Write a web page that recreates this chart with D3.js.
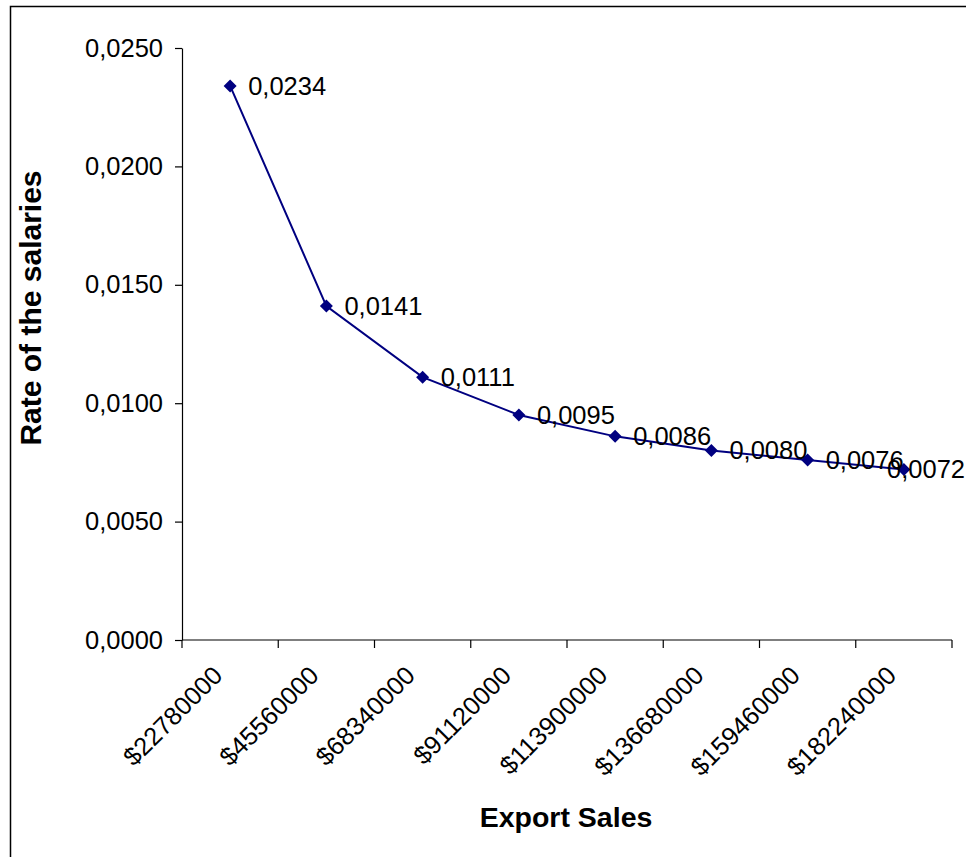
<!DOCTYPE html>
<html>
<head>
<meta charset="utf-8">
<script src="https://cdn.jsdelivr.net/npm/d3@7"></script>
<style>
  body { margin: 0; background: #fff; }
  svg { display: block; font-family: "Liberation Sans", Arial, sans-serif; }
</style>
</head>
<body>
<svg id="chart" width="966" height="857"></svg>
<script>
// categories and values
const categories = ["$22780000", "$45560000", "$68340000", "$91120000",
  "$113900000", "$136680000", "$159460000", "$182240000"];
const rates = [0.0234, 0.0141, 0.0111, 0.0095, 0.0086, 0.0080, 0.0076, 0.0072];
const yTicks = [0, 0.005, 0.010, 0.015, 0.020, 0.025];

const svg = d3.select("#chart");
const W = 966, H = 857;
const plotL = 182, plotR = 952, plotT = 48, plotB = 640;
const fs = 25.5;

let fmt = d => d3.format(".4f")(d).replace(".", ",");

// outer frame (right and bottom edges fall outside the picture)
svg.append("rect")
  .attr("x", 10.5).attr("y", 6.5)
  .attr("width", W + 20).attr("height", H + 20)
  .attr("fill", "none").attr("stroke", "#000").attr("stroke-width", 1.5);

let x = d3.scaleBand().domain(categories).range([plotL, plotR]).padding(0);
let y = d3.scaleLinear().domain([0, 0.025]).range([plotB, plotT]);

// y axis
let yAxis = svg.append("g")
  .attr("transform", "translate(" + plotL + ",0)")
  .call(d3.axisLeft(y).tickValues(yTicks).tickSize(7).tickSizeOuter(0)
    .tickPadding(12).tickFormat(fmt));
yAxis.selectAll("text").attr("font-size", fs).attr("fill", "#000")
  .attr("font-family", "Liberation Sans, Arial, sans-serif");
yAxis.selectAll("line, path").attr("stroke", "#000").attr("stroke-width", 1.2);

// x axis line + ticks at category boundaries
let xg = svg.append("g");
xg.append("line")
  .attr("x1", plotL).attr("x2", plotR)
  .attr("y1", plotB).attr("y2", plotB)
  .attr("stroke", "#000").attr("stroke-width", 1.2);
xg.selectAll("line.tick")
  .data(categories.map(c => x(c)).concat([plotR]))
  .join("line")
  .attr("class", "tick")
  .attr("x1", d => d).attr("x2", d => d)
  .attr("y1", plotB).attr("y2", plotB + 8)
  .attr("stroke", "#000").attr("stroke-width", 1.2);

xg.selectAll("text")
  .data(categories)
  .join("text")
  .attr("transform", d => "translate(" + (x(d) + x.bandwidth() / 2 - 6) + "," + (plotB + 37) + ") rotate(-45)")
  .attr("text-anchor", "end")
  .attr("font-size", fs)
  .text(d => d);

// line + markers
let pts = categories.map((c, i) => [x(c) + x.bandwidth() / 2, y(rates[i]), rates[i]]);

svg.append("path")
  .datum(pts)
  .attr("fill", "none")
  .attr("stroke", "#000080")
  .attr("stroke-width", 2)
  .attr("d", d3.line().x(d => d[0]).y(d => d[1]));

svg.selectAll("path.marker")
  .data(pts)
  .join("path")
  .attr("class", "marker")
  .attr("transform", d => "translate(" + d[0] + "," + d[1] + ")")
  .attr("d", "M0,-6.5L6.5,0L0,6.5L-6.5,0Z")
  .attr("fill", "#000080");

// data labels; the last one is pushed left so it stays inside the frame
let last = pts.length - 1;
svg.selectAll("text.lbl")
  .data(pts)
  .join("text")
  .attr("class", "lbl")
  .attr("x", (d, i) => i === last ? W - 1 : d[0] + 18)
  .attr("y", d => d[1])
  .attr("dy", "0.35em")
  .attr("text-anchor", (d, i) => i === last ? "end" : "start")
  .attr("font-size", fs)
  .text(d => fmt(d[2]));

// axis titles
svg.append("text")
  .attr("x", 566).attr("y", 827)
  .attr("text-anchor", "middle")
  .attr("font-size", 28.5).attr("font-weight", "bold")
  .text("Export Sales");

svg.append("text")
  .attr("transform", "translate(41,308) rotate(-90)")
  .attr("text-anchor", "middle")
  .attr("font-size", 30).attr("font-weight", "bold")
  .text("Rate of the salaries");
</script>
</body>
</html>
